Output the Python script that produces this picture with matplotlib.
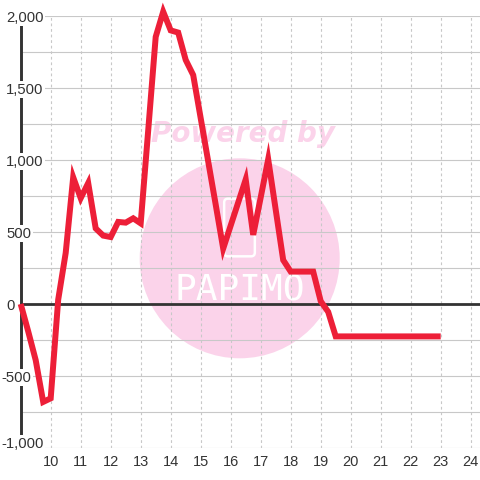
import matplotlib
matplotlib.use("Agg")
import matplotlib.pyplot as plt
from matplotlib.patches import Circle, FancyBboxPatch
from matplotlib.transforms import blended_transform_factory

# ---- data ----
times = [9.00, 9.25, 9.50, 9.75, 10.00, 10.25, 10.50, 10.75,
         11.00, 11.25, 11.50, 11.75, 12.00, 12.25, 12.50, 12.75,
         13.00, 13.25, 13.50, 13.75, 14.00, 14.25, 14.50, 14.75,
         15.00, 15.25, 15.50, 15.75, 16.00, 16.25, 16.50, 16.75,
         17.00, 17.25, 17.50, 17.75, 18.00, 18.25, 18.50, 18.75,
         19.00, 19.25, 19.50, 19.75, 20.00, 20.25, 20.50, 20.75,
         21.00, 21.25, 21.50, 21.75, 22.00, 22.25, 22.50, 22.75, 23.00]
values = [0, -190, -390, -680, -655, 30, 355, 880,
          735, 840, 525, 475, 465, 570, 565, 595,
          560, 1205, 1855, 2030, 1900, 1885, 1695, 1590,
          1290, 990, 690, 385, 545, 705, 865, 480,
          740, 1005, 655, 305, 225, 225, 225, 225,
          20, -55, -225, -225, -225, -225, -225, -225,
          -225, -225, -225, -225, -225, -225, -225, -225, -225]
x_ticks = [10, 11, 12, 13, 14, 15, 16, 17, 18, 19, 20, 21, 22, 23, 24]
y_ticks = [2000, 1500, 1000, 500, 0, -500, -1000]
y_tick_labels = ["2,000", "1,500", "1,000", "500", "0", "-500", "-1,000"]
y_grid = [-1000, -750, -500, -250, 0, 250, 500, 750, 1000, 1250, 1500, 1750, 2000]

W = H = 480.0
fig = plt.figure(figsize=(4.8, 4.8), dpi=100)
fig.patch.set_facecolor("white")
ax = fig.add_axes([20.7 / W, 32 / H, (480 - 20.7) / W, 432 / H])
ax.patch.set_visible(False)
ax.set_xlim(9.0, 9.0 + (480 - 20.7) / 30.0)
ax.set_ylim(-1000, 2000)

for s in ["top", "right", "bottom"]:
    ax.spines[s].set_visible(False)
ax.spines["left"].set_color("#333333")
ax.spines["left"].set_linewidth(2.1)
ax.spines["left"].set_zorder(2)

grid_c = "#c8c8c8"
for g in y_grid:
    ax.axhline(g, color=grid_c, lw=0.8, zorder=0.5)
for t in x_ticks:
    ax.axvline(t, color=grid_c, lw=0.8, ls=(0, (2.5, 2.5)), zorder=0.5)

ax.axhline(0, color="#333333", lw=2.0, zorder=1.5)

# watermark
pink = "#fbd3ea"
circ = Circle((239.7 / W, (H - 258.3) / H), 100 / W, transform=fig.transFigure,
              facecolor=pink, edgecolor="none", zorder=0.1, clip_on=False)
ax.add_patch(circ)
ax.text(242.5 / W, (H - 134) / H, "Powered by", transform=fig.transFigure,
        ha="center", va="center", fontsize=20, fontweight="bold", style="italic",
        family="DejaVu Sans", color=pink, zorder=0.2)
rect = FancyBboxPatch(((224 + 4) / W, (H - 256.5 + 4) / H), (31 - 8) / W, (58 - 8) / H,
                      boxstyle="round,pad=0.008", transform=fig.transFigure,
                      facecolor="none", edgecolor="white", lw=1.8, zorder=0.3, clip_on=False)
ax.add_patch(rect)
ax.text(240 / W, (H - 289) / H, "PAPIMO", transform=fig.transFigure,
        ha="center", va="center", fontsize=26, family="DejaVu Sans Mono",
        fontweight="light", color="white", zorder=0.3)

# line
ax.plot(times, values, color="#ed1f38", lw=4.3, solid_joinstyle="miter",
        solid_capstyle="butt", zorder=3, clip_on=False)

# x tick labels
ax.set_xticks(x_ticks)
ax.set_xticklabels([str(t) for t in x_ticks])
ax.tick_params(axis="x", length=0, pad=5, labelsize=10.5, labelcolor="#333333")
ax.set_yticks([])

# y tick labels with white boxes over the axis line
tr = blended_transform_factory(fig.transFigure, ax.transData)
for v, lab in zip(y_ticks, y_tick_labels):
    xpix = 6.0 if not lab.startswith("-") else 1.2
    yv = v if v > -1000 else v + 40
    ax.text(xpix / W, yv, lab, transform=tr, ha="left", va="center_baseline",
            fontsize=10.7, family="Liberation Sans", color="#333333",
            bbox=dict(facecolor="white", edgecolor="none", pad=1.2),
            zorder=5, clip_on=False)

for lbl in ax.get_xticklabels():
    lbl.set_family("Liberation Sans")

fig.savefig("out.png", dpi=100, facecolor="white")
